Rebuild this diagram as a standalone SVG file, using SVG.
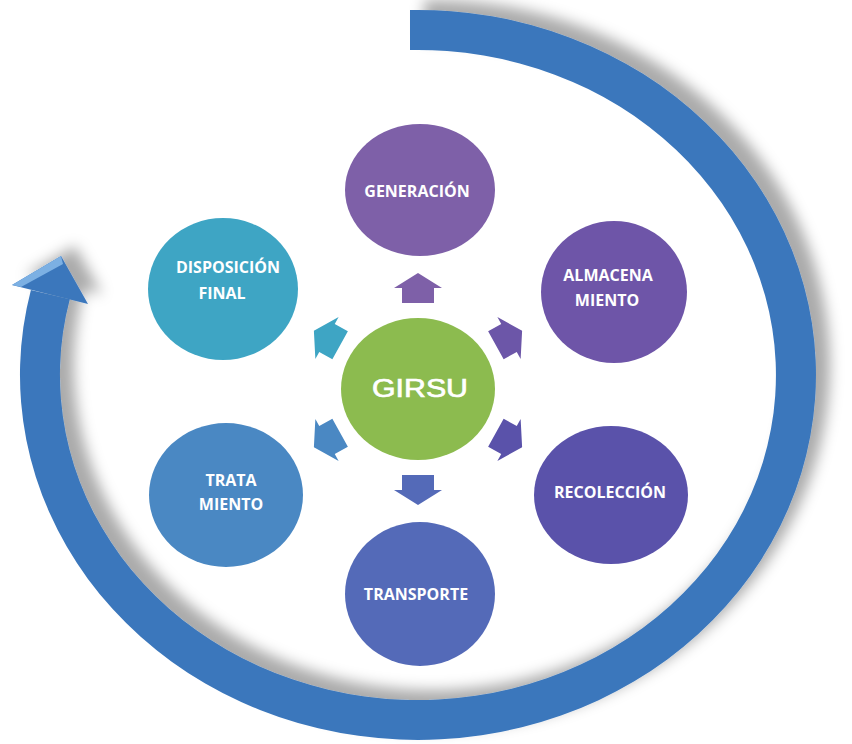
<svg xmlns="http://www.w3.org/2000/svg" width="852" height="744" viewBox="0 0 852 744">
<defs>
<style>
.lbl{font-family:"Open Sans","Liberation Sans",sans-serif;font-weight:700;font-size:16px;fill:#ffffff;text-anchor:middle}
.girsu{font-family:"Liberation Sans",Arial,sans-serif;font-size:26px;fill:#ffffff;stroke:#ffffff;stroke-width:0.7px;text-anchor:middle}
</style>
<filter id="sh" x="-10%" y="-10%" width="125%" height="125%">
<feGaussianBlur in="SourceAlpha" stdDeviation="7"/>
<feOffset dx="14" dy="-10" result="b"/>
<feFlood flood-color="#000000" flood-opacity="0.33"/>
<feComposite in2="b" operator="in"/>
<feMerge><feMergeNode/><feMergeNode in="SourceGraphic"/></feMerge>
</filter>
<path id="blk" d="M0,-15 L24,0 L16,0 L16,15 L-16,15 L-16,0 L-24,0 Z"/>
</defs>
<rect width="852" height="744" fill="#ffffff"/>

<g id="cycle-arrow" filter="url(#sh)">
<path d="M410,10 A398,365 0 1 1 30.9,290 L69.8,299.3 A358,325 0 1 0 410,50.1 Z" fill="#3b77bc"/>
<polygon points="12,285 61,256 88,304" fill="#3b77bc"/>
<polygon points="12,285 61,256 63,264 21,287" fill="#7cb0e3"/>
</g>

<g id="connectors">
<use href="#blk" transform="translate(418,288)" fill="#7e60a8"/>
<use href="#blk" transform="translate(509,338) rotate(61)" fill="#6c56a8"/>
<use href="#blk" transform="translate(509,440) rotate(119)" fill="#5a52aa"/>
<use href="#blk" transform="translate(418,490) rotate(180)" fill="#546ab8"/>
<use href="#blk" transform="translate(327,440) rotate(-119)" fill="#4a88c3"/>
<use href="#blk" transform="translate(327,338) rotate(-61)" fill="#3ea5c4"/>
</g>

<g id="girsu">
<ellipse cx="418" cy="389" rx="77" ry="71" fill="#8cbb4f"/>
<text class="girsu" x="420" y="397" textLength="96" lengthAdjust="spacingAndGlyphs">GIRSU</text>
</g>
<g id="generacion">
<ellipse cx="420" cy="190" rx="75" ry="66" fill="#7e60a8"/>
<text class="lbl" x="417" y="197">GENERACIÓN</text>
</g>
<g id="almacenamiento">
<ellipse cx="614" cy="292" rx="73" ry="71" fill="#6e55a8"/>
<text class="lbl" x="608" y="281">ALMACENA</text>
<text class="lbl" x="607" y="306">MIENTO</text>
</g>
<g id="recoleccion">
<ellipse cx="611" cy="495" rx="77" ry="69" fill="#5a52aa"/>
<text class="lbl" x="610" y="498">RECOLECCIÓN</text>
</g>
<g id="transporte">
<ellipse cx="420" cy="594" rx="75" ry="72" fill="#546ab8"/>
<text class="lbl" x="416" y="600">TRANSPORTE</text>
</g>
<g id="tratamiento">
<ellipse cx="226" cy="495" rx="77" ry="72" fill="#4a88c3"/>
<text class="lbl" x="231" y="486">TRATA</text>
<text class="lbl" x="231" y="510">MIENTO</text>
</g>
<g id="disposicion-final">
<ellipse cx="223" cy="289" rx="75" ry="71" fill="#3ea5c4"/>
<text class="lbl" x="228" y="273">DISPOSICIÓN</text>
<text class="lbl" x="222" y="299">FINAL</text>
</g>
</svg>
